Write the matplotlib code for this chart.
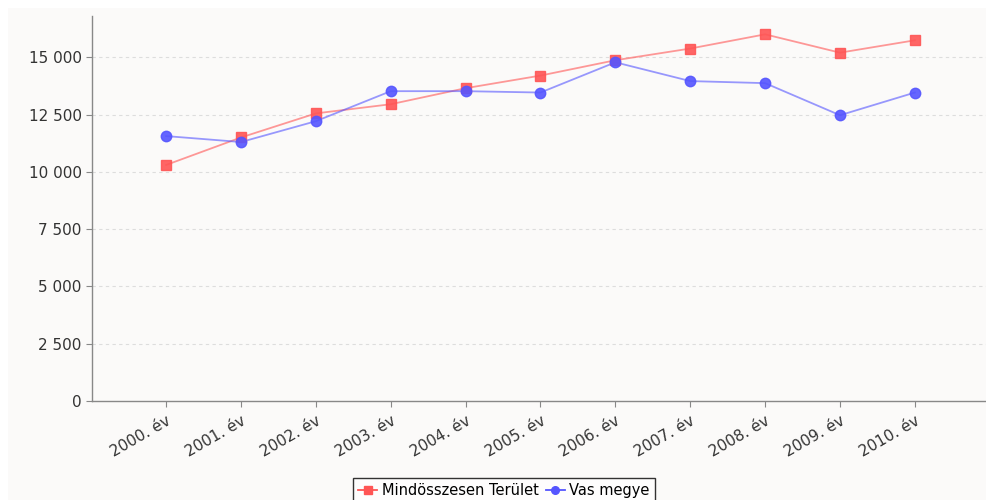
import matplotlib.pyplot as plt
from matplotlib.patches import Rectangle
from matplotlib.ticker import FuncFormatter

years = ['2000. év', '2001. év', '2002. év', '2003. év', '2004. év', '2005. év',
         '2006. év', '2007. év', '2008. év', '2009. év', '2010. év']
osszes = [10300, 11500, 12550, 12950, 13650, 14200, 14870, 15380, 16000, 15200, 15740]
vas = [11560, 11300, 12210, 13520, 13520, 13460, 14780, 13960, 13870, 12470, 13460]

bg = '#fbfaf9'
fig = plt.figure(figsize=(9.86, 5.0), dpi=100, facecolor='white')
# chart background leaves a thin white strip on the top and left
fig.add_artist(Rectangle((8 / 986, 0), 1, 492 / 500, transform=fig.transFigure,
                         facecolor=bg, edgecolor='none', zorder=-10))
ax = fig.add_axes([92 / 986, 99 / 500, 894 / 986, 385 / 500])
ax.set_facecolor(bg)
ax.set_zorder(1)

x = list(range(len(years)))
ax.plot(x, osszes, color='#ff5555', alpha=0.6, lw=1.3, zorder=3)
ax.plot(x, osszes, ls='none', marker='s', ms=7, color='#ff5555', alpha=0.9, zorder=4)
ax.plot(x, vas, color='#5555ff', alpha=0.6, lw=1.3, zorder=3)
ax.plot(x, vas, ls='none', marker='o', ms=7.5, color='#5555ff', alpha=0.9, zorder=4)

ax.set_xlim(-0.99, 10.95)
ax.set_ylim(0, 16800)
ax.set_yticks(range(0, 16000, 2500))
ax.yaxis.set_major_formatter(FuncFormatter(lambda v, p: f'{int(v):,}'.replace(',', ' ')))
ax.set_xticks(x)
ax.set_xticklabels(years, rotation=30, ha='right', rotation_mode='anchor')
ax.tick_params(axis='both', direction='out', length=4, color='#888888',
               labelsize=11, labelcolor='#333333')
ax.tick_params(axis='x', pad=5)

for v in range(2500, 16000, 2500):
    ax.axhline(v, color='#dddddd', lw=0.8, ls=(0, (3, 3)), zorder=1)

for s in ['top', 'right']:
    ax.spines[s].set_visible(False)
for s in ['left', 'bottom']:
    ax.spines[s].set_color('#888888')
    ax.spines[s].set_linewidth(1.0)

h1, = ax.plot([], [], color='#ff5555', marker='s', ms=5.5, lw=1.3)
h2, = ax.plot([], [], color='#5555ff', marker='o', ms=5.5, lw=1.3)
leg = fig.legend([h1, h2], ['Mindösszesen Terület', 'Vas megye'], loc='lower center',
                 bbox_to_anchor=(0.511, -0.006), ncol=2, frameon=True, fancybox=False,
                 fontsize=10.5, handlelength=1.3, handletextpad=0.3, columnspacing=0.5,
                 borderpad=0.35, borderaxespad=0)
leg.get_frame().set_edgecolor('black')
leg.get_frame().set_linewidth(1.0)
leg.get_frame().set_facecolor('white')

fig.savefig('out.png', dpi=100)
